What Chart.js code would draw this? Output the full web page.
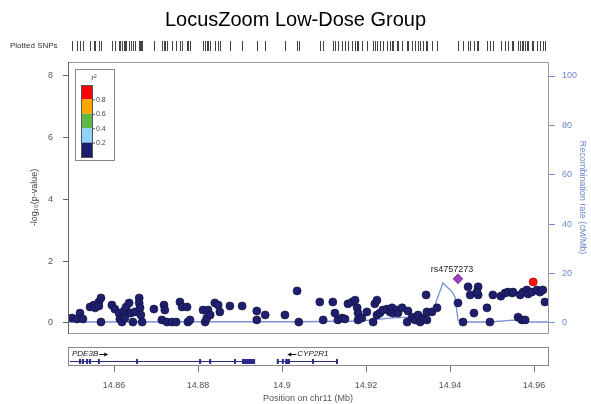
<!DOCTYPE html>
<html>
<head>
<meta charset="utf-8">
<script src="https://cdn.jsdelivr.net/npm/chart.js@4.4.1/dist/chart.umd.min.js"></script>
<style>
html, body { margin: 0; padding: 0; background: #fff; }
#wrap { width: 591px; height: 404px; }
</style>
</head>
<body>
<div id="wrap"><canvas id="lz" width="591" height="404"></canvas></div>
<script>
// SNP positions (Mb) and -log10(p) for r2 < 0.2
const snpPos = [
  14.8500, 14.8512, 14.8519, 14.8526, 14.8543, 14.8552, 14.8555, 14.8564, 14.8569, 14.8564,
  14.8569, 14.8595, 14.8602, 14.8612, 14.8614, 14.8619, 14.8624, 14.8629, 14.8626, 14.8636,
  14.8640, 14.8645, 14.8650, 14.8660, 14.8660, 14.8662, 14.8664, 14.8667, 14.8695, 14.8719,
  14.8721, 14.8714, 14.8726, 14.8738, 14.8748, 14.8757, 14.8762, 14.8774, 14.8776, 14.8781,
  14.8812, 14.8817, 14.8821, 14.8824, 14.8829, 14.8840, 14.8848, 14.8852, 14.8876, 14.8905,
  14.8940, 14.8940, 14.8960, 14.9007, 14.9036, 14.9040, 14.9090, 14.9098, 14.9121, 14.9126,
  14.9133, 14.9143, 14.9150, 14.9157, 14.9167, 14.9174, 14.9179, 14.9181, 14.9181, 14.9190,
  14.9202, 14.9217, 14.9221, 14.9226, 14.9226, 14.9233, 14.9240, 14.9250, 14.9257, 14.9262,
  14.9264, 14.9274, 14.9276, 14.9286, 14.9298, 14.9300, 14.9310, 14.9317, 14.9324, 14.9329,
  14.9336, 14.9343, 14.9345, 14.9345, 14.9357, 14.9369, 14.9419, 14.9431, 14.9443, 14.9448,
  14.9457, 14.9467, 14.9467, 14.9464, 14.9488, 14.9495, 14.9502, 14.9521, 14.9531, 14.9538,
  14.9548, 14.9550, 14.9562, 14.9567, 14.9571, 14.9579, 14.9574, 14.9583, 14.9586, 14.9595,
  14.9607, 14.9614, 14.9621, 14.9626
];
const snpLogP = [
  0.16, 0.13, 0.32, 0.13, 0.52, 0.58, 0.49, 0.68, 0.81, 0.55,
  0.03, 0.58, 0.45, 0.32, 0.13, 0.03, 0.39, 0.52, 0.16, 0.65,
  0.32, 0.03, 0.36, 0.81, 0.65, 0.49, 0.26, 0.03, 0.45, 0.58,
  0.42, 0.10, 0.03, 0.03, 0.03, 0.68, 0.52, 0.52, 0.03, 0.10,
  0.42, 0.03, 0.16, 0.42, 0.26, 0.65, 0.58, 0.36, 0.55, 0.55,
  0.39, 0.10, 0.26, 0.26, 1.04, 0.03, 0.68, 0.10, 0.68, 0.32,
  0.10, 0.16, 0.13, 0.62, 0.68, 0.74, 0.49, 0.32, 0.10, 0.16,
  0.36, 0.03, 0.62, 0.74, 0.26, 0.32, 0.42, 0.45, 0.36, 0.49,
  0.32, 0.42, 0.32, 0.49, 0.03, 0.39, 0.19, 0.10, 0.26, 0.03,
  0.16, 0.91, 0.36, 0.10, 0.36, 0.49, 0.65, 0.03, 1.17, 0.91,
  0.32, 1.17, 0.91, 1.00, 0.49, 0.03, 0.91, 0.87, 0.97, 1.00,
  0.97, 1.00, 0.19, 0.91, 0.10, 0.10, 1.00, 1.07, 0.94, 1.00,
  1.07, 1.00, 1.07, 0.68
];

// index SNP (purple diamond) and the one r2 > 0.8 SNP
const refSnpName = 'rs4757273';
const refSnpPos = [14.9419];
const refSnpLogP = [1.43];
const highLdPos = [14.9598];
const highLdLogP = [1.33];

// recombination rate (cM/Mb)
const recombPos = [14.8490, 14.8805, 14.9043, 14.9186, 14.9257, 14.9305, 14.9340, 14.9360,
  14.9383, 14.9405, 14.9412, 14.9419, 14.9440, 14.9495, 14.9550, 14.9579, 14.9633];
const recombRate = [0.4, 0.5, 0.5, 0.8, 2.0, 2.4, 1.2, 5.3,
  16.2, 12.6, 10.5, 1.2, 0.4, 0.4, 1.2, 0.4, 0.4];

// axes
const xMin = 14.84905, xMax = 14.96333;
const xTicks = [14.86, 14.88, 14.90, 14.92, 14.94, 14.96];
const xTickLabels = ['14.86', '14.88', '14.9', '14.92', '14.94', '14.96'];
const leftTicks = [0, 2, 4, 6, 8];
const rightTicks = [0, 20, 40, 60, 80, 100];

// LD legend
const ldLabels = ['0.8', '0.6', '0.4', '0.2'];
const ldColors = ['#ff0000', '#ffa500', '#5cb947', '#8fd3fb', '#1d1d6e'];

// genes
const geneNames = ['PDE3B', 'CYP2R1'];
const geneStart = [14.6653, 14.8990];
const geneEnd = [14.8936, 14.9133];
const geneStrand = ['+', '-'];
const exonStart = [
  [14.8519, 14.8526, 14.8536, 14.8543, 14.8564, 14.8655, 14.8805, 14.8829, 14.8888, 14.8907],
  [14.8990, 14.9002, 14.9010, 14.9074, 14.9131]
];
const exonEnd = [
  [14.8519, 14.8526, 14.8536, 14.8543, 14.8564, 14.8655, 14.8805, 14.8829, 14.8888, 14.8936],
  [14.8990, 14.9002, 14.9019, 14.9074, 14.9133]
];

const FONT = '"Liberation Sans", Arial, sans-serif';
const navy = '#1f1f6f';
const recombBlue = '#7890d8';

function toXY(xs, ys) {
  return xs.map((v, i) => ({ x: v, y: ys[i] }));
}

const locusExtras = {
  id: 'locusExtras',
  afterDraw(chart) {
    const { ctx, chartArea: a, scales: { x, y } } = chart;
    ctx.save();

    // plot frame
    ctx.lineWidth = 1;
    ctx.strokeStyle = '#9a9a9a';
    ctx.beginPath();
    ctx.moveTo(a.left, a.top + 0.5); ctx.lineTo(a.right + 0.5, a.top + 0.5);
    ctx.lineTo(a.right + 0.5, a.bottom + 0.5); ctx.lineTo(a.left, a.bottom + 0.5);
    ctx.stroke();
    ctx.strokeStyle = '#666';
    ctx.beginPath();
    ctx.moveTo(a.left + 0.5, a.top); ctx.lineTo(a.left + 0.5, a.bottom + 1);
    ctx.stroke();

    // plotted SNPs strip
    ctx.fillStyle = '#333';
    ctx.font = '8px ' + FONT;
    ctx.textAlign = 'left';
    ctx.textBaseline = 'middle';
    ctx.fillText('Plotted SNPs', 10, 46);
    ctx.strokeStyle = '#444';
    const allPos = snpPos.concat(refSnpPos, highLdPos);
    allPos.forEach(p => {
      const px = Math.round(x.getPixelForValue(p)) + 0.5;
      ctx.beginPath();
      ctx.moveTo(px, 41); ctx.lineTo(px, 51);
      ctx.stroke();
    });

    // index SNP label
    const rx = x.getPixelForValue(refSnpPos[0]);
    const ry = y.getPixelForValue(refSnpLogP[0]);
    ctx.fillStyle = '#222';
    ctx.font = '9px ' + FONT;
    ctx.textAlign = 'center';
    ctx.textBaseline = 'alphabetic';
    ctx.fillText(refSnpName, rx - 6, ry - 7);

    // LD legend
    const lx = a.left + 7, ly = a.top + 7;
    ctx.fillStyle = '#fff';
    ctx.fillRect(lx, ly, 39, 91);
    ctx.strokeStyle = '#888';
    ctx.strokeRect(lx + 0.5, ly + 0.5, 39, 91);
    ctx.fillStyle = '#333';
    ctx.font = '8px ' + FONT;
    ctx.textAlign = 'center';
    ctx.fillText('r\u00B2', lx + 19, ly + 11);
    const bx = lx + 6, bw = 11, bh = 14.4, by0 = ly + 16;
    ldColors.forEach((c, i) => {
      ctx.fillStyle = c;
      ctx.fillRect(bx, by0 + i * bh, bw, bh);
    });
    ctx.strokeStyle = '#555';
    ctx.strokeRect(bx + 0.5, by0 + 0.5, bw, bh * ldColors.length);
    ctx.font = '7px ' + FONT;
    ctx.textAlign = 'left';
    ctx.textBaseline = 'middle';
    ldLabels.forEach((t, i) => {
      const ty = by0 + (i + 1) * bh;
      ctx.strokeStyle = '#555';
      ctx.beginPath();
      ctx.moveTo(bx + bw, ty + 0.5); ctx.lineTo(bx + bw + 3, ty + 0.5);
      ctx.stroke();
      ctx.fillStyle = '#444';
      ctx.fillText(t, bx + bw + 4, ty + 0.5);
    });

    // gene track
    const gTop = 347, gH = 18;
    ctx.strokeStyle = '#888';
    ctx.strokeRect(a.left + 0.5, gTop + 0.5, a.right - a.left, gH);
    const gy = 361.5;
    geneNames.forEach((name, g) => {
      const x0 = Math.max(x.getPixelForValue(geneStart[g]), a.left + 2);
      const x1 = Math.min(x.getPixelForValue(geneEnd[g]), a.right - 2);
      ctx.strokeStyle = '#2a2a8c';
      ctx.lineWidth = 1;
      ctx.beginPath();
      ctx.moveTo(x0, gy); ctx.lineTo(x1, gy);
      ctx.stroke();
      ctx.fillStyle = '#2a2a8c';
      exonStart[g].forEach((s, k) => {
        const e0 = x.getPixelForValue(s);
        const e1 = x.getPixelForValue(exonEnd[g][k]);
        ctx.fillRect(e0 - 1, gy - 2.5, Math.max(2, e1 - e0 + 1), 5);
      });
      // label and strand arrow
      ctx.font = 'italic 8px ' + FONT;
      ctx.fillStyle = '#111';
      ctx.textBaseline = 'middle';
      const tw = ctx.measureText(name).width;
      const arrow = 9;
      const clipped = x.getPixelForValue(geneStart[g]) < a.left;
      let startX = clipped ? a.left + 4 : (x0 + x1) / 2 - (tw + arrow + 1) / 2;
      const ty = 354;
      ctx.strokeStyle = '#111';
      ctx.textAlign = 'left';
      if (geneStrand[g] === '+') {
        ctx.fillText(name, startX, ty);
        const ax = startX + tw + 1;
        ctx.beginPath(); ctx.moveTo(ax, ty + 0.5); ctx.lineTo(ax + arrow - 2, ty + 0.5); ctx.stroke();
        ctx.beginPath(); ctx.moveTo(ax + arrow, ty + 0.5); ctx.lineTo(ax + arrow - 4, ty - 1.5); ctx.lineTo(ax + arrow - 4, ty + 2.5); ctx.closePath();
        ctx.fillStyle = '#111'; ctx.fill();
      } else {
        const ax = startX;
        ctx.beginPath(); ctx.moveTo(ax + 2, ty + 0.5); ctx.lineTo(ax + arrow, ty + 0.5); ctx.stroke();
        ctx.beginPath(); ctx.moveTo(ax, ty + 0.5); ctx.lineTo(ax + 4, ty - 1.5); ctx.lineTo(ax + 4, ty + 2.5); ctx.closePath();
        ctx.fillStyle = '#111'; ctx.fill();
        ctx.fillText(name, ax + arrow + 1, ty);
      }
    });

    // x tick marks below gene track
    ctx.strokeStyle = '#777';
    xTicks.forEach(v => {
      const px = Math.round(x.getPixelForValue(v)) + 0.5;
      ctx.beginPath();
      ctx.moveTo(px, gTop + gH + 1); ctx.lineTo(px, gTop + gH + 7);
      ctx.stroke();
    });

    ctx.restore();
  }
};

new Chart(document.getElementById('lz'), {
  type: 'scatter',
  data: {
    datasets: [
      {
        label: 'index SNP',
        data: toXY(refSnpPos, refSnpLogP),
        pointStyle: 'rectRot',
        pointRadius: 4.8,
        backgroundColor: '#9a3fc2',
        borderColor: '#5b2080',
        borderWidth: 0.8,
        order: 1
      },
      {
        label: 'r2 > 0.8',
        data: toXY(highLdPos, highLdLogP),
        pointRadius: 4,
        backgroundColor: '#ff1111',
        borderColor: '#a00000',
        borderWidth: 0.7,
        order: 2
      },
      {
        label: 'r2 < 0.2',
        data: toXY(snpPos, snpLogP),
        pointRadius: 4,
        backgroundColor: navy,
        borderColor: '#12123f',
        borderWidth: 0.7,
        order: 3
      },
      {
        type: 'line',
        label: 'Recombination rate',
        data: toXY(recombPos, recombRate),
        yAxisID: 'y2',
        borderColor: recombBlue,
        borderWidth: 1.3,
        pointRadius: 0,
        tension: 0,
        fill: false,
        order: 10
      }
    ]
  },
  options: {
    responsive: false,
    animation: false,
    layout: { padding: 0 },
    plugins: {
      legend: { display: false },
      tooltip: { enabled: false },
      title: {
        display: true,
        text: 'LocusZoom Low-Dose Group',
        color: '#000',
        font: { family: FONT, size: 20, weight: 'normal' },
        padding: { top: 8, bottom: 30 }
      }
    },
    scales: {
      x: {
        type: 'linear',
        position: 'bottom',
        min: xMin,
        max: xMax,
        afterBuildTicks: s => { s.ticks = xTicks.map(v => ({ value: v })); },
        afterFit: s => { s.height = 71; },
        grid: { display: false },
        border: { display: false },
        ticks: {
          padding: 39,
          color: '#555',
          font: { family: FONT, size: 9 },
          maxRotation: 0,
          callback: (v, i) => xTickLabels[i]
        },
        title: {
          display: true,
          text: 'Position on chr11 (Mb)',
          color: '#555',
          font: { family: FONT, size: 9 },
          padding: { top: 0, bottom: 0 }
        }
      },
      y: {
        position: 'left',
        min: -0.324,
        max: 8.453,
        afterBuildTicks: s => { s.ticks = leftTicks.map(v => ({ value: v })); },
        afterFit: s => { s.width = 68; },
        grid: { drawOnChartArea: false, drawTicks: true, tickLength: 5, color: '#666' },
        border: { display: false },
        ticks: { padding: 10, color: '#555', font: { family: FONT, size: 9 } },
        title: {
          display: true,
          text: '-log\u2081\u2080(p-value)',
          color: '#444',
          font: { family: FONT, size: 9 },
          padding: { top: 29, bottom: 0 }
        }
      },
      y2: {
        position: 'right',
        min: -4.05,
        max: 105.67,
        afterBuildTicks: s => { s.ticks = rightTicks.map(v => ({ value: v })); },
        afterFit: s => { s.width = 43; },
        grid: { drawOnChartArea: false, drawTicks: true, tickLength: 7, color: recombBlue },
        border: { display: false },
        ticks: { padding: 7, color: '#6f86d0', font: { family: FONT, size: 9 } },
        title: {
          display: true,
          text: 'Recombination rate (cM/Mb)',
          color: '#6f86d0',
          font: { family: FONT, size: 9 },
          padding: { top: 3, bottom: 0 }
        }
      }
    }
  },
  plugins: [locusExtras]
});
</script>
</body>
</html>
